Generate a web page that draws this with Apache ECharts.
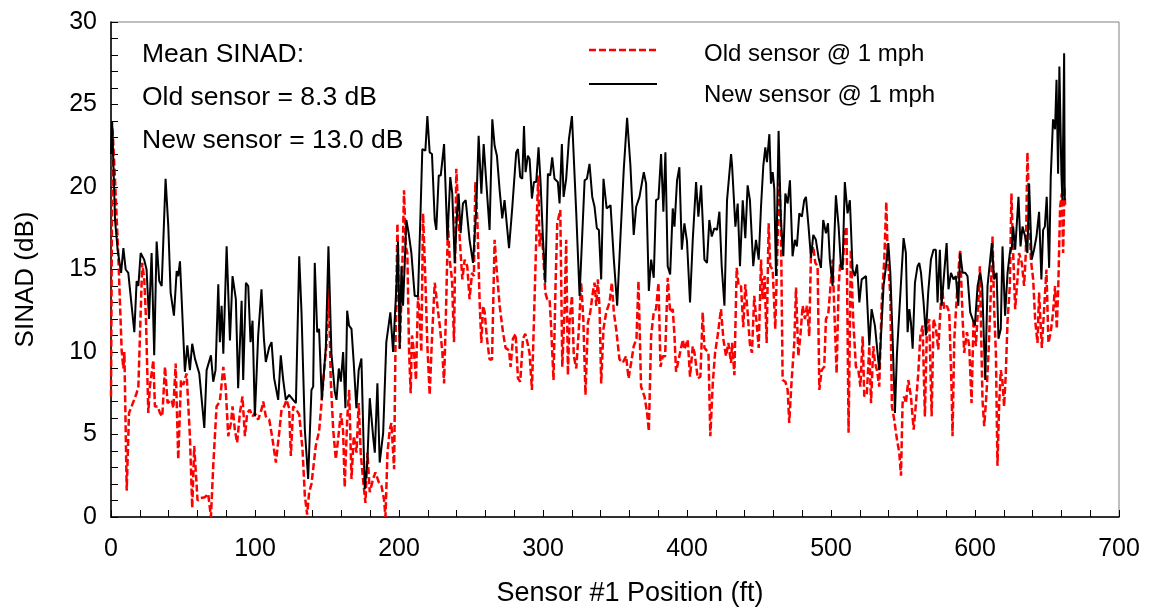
<!DOCTYPE html>
<html>
<head>
<meta charset="utf-8">
<title>SINAD vs position</title>
<script src="https://cdn.jsdelivr.net/npm/echarts@6/dist/echarts.min.js"></script>
<style>
    html, body { margin: 0; padding: 0; background: #fff; }
    #main { width: 1149px; height: 607px; }
</style>
</head>
<body>
<div id="main"></div>
<script>
// 数据: [位置(ft), SINAD(dB)]
var oldSensor = [
    [0,7.3],[1,23.6],[2.5,21],[5,16],[7.4,10.1],[8.6,9],[9.3,10],[10.9,1.6],[12.5,6.3],[14.3,6.7],
    [17.8,7.5],[19,7.9],[21.7,15.4],[23.1,14.4],[24.3,12],[25.9,6.3],[27,7.9],[29.4,9.5],[30.5,6.7],[32.4,6.7],
    [34,6.3],[35.6,6.1],[37.5,9.1],[39.3,6.9],[42.1,7.1],[43.3,6.6],[44.9,9.3],[46.7,3.5],[48.6,8.3],[50.2,8],
    [52.5,8.7],[54.8,4.9],[56.4,0.55],[57.8,4.3],[60.1,1],[62.2,1.15],[65.2,1.2],[67.5,1.4],[69.4,0],[71,3.1],
    [73.3,6.7],[75.6,7],[78,9.1],[79.6,7.9],[81.4,4.9],[83.3,5.7],[84.4,6.7],[86,5.3],[87.6,4.5],[89.5,6.3],
    [91.3,7.3],[93,4.9],[94.6,6.3],[96.4,6.5],[98.3,6.1],[99.9,6.3],[102.2,5.9],[104.5,6.5],[105.7,7],[107.5,6.1],
    [109.9,5.9],[112.2,4.7],[114.5,3.3],[116.8,5.1],[118.4,6.5],[120.3,6.7],[121.9,7.1],[123.7,6.6],[124.9,3.7],[126.5,6.7],
    [128.8,6.5],[130.7,6.2],[133,4.1],[134.6,1.3],[136.2,0.15],[137.6,1.5],[139.2,2],[140.4,1.9],[142.2,4.3],[144.5,5.2],
    [146.2,6.9],[148,8.9],[149.6,10.4],[151.2,14],[152.6,8.3],[154.3,5.3],[156.1,3.5],[157.7,4.7],[159.6,6.3],[161.2,5.2],
    [162.3,1.8],[164,5.9],[165.4,7.7],[167,2.3],[168.6,4.9],[170.5,3.9],[172,6.9],[173.4,3.9],[175,2.3],[176.7,0.85],
    [178.1,3.9],[179.7,1.5],[182,2.3],[183.6,2.7],[186,2.1],[187.8,1.9],[189.6,1.05],[190.6,0],[192,3.9],[193.6,5.3],
    [194.7,5.7],[196.6,2.9],[197.5,10],[198.9,17.8],[200.5,10.2],[202.1,14.4],[203.5,19.8],[204.7,16.4],[205.8,16],[207,10],
    [208.1,7.5],[209,11],[210.4,10],[211.8,8.3],[213.2,13.4],[214.4,12.2],[215.5,10],[216.7,18.4],[218.3,14.4],[219.7,10.4],
    [221.3,7.4],[222.9,10.8],[224.8,14.2],[226.4,13],[228.3,11.6],[230.1,10],[231.3,8.1],[232.9,13.4],[234,17.8],[235.2,15.6],
    [236.8,14.4],[238.2,10.6],[239.8,21.1],[241.4,18],[242.8,16],[244,14.4],[245.6,15.6],[247.4,15.2],[249,13.2],[250.7,14.8],
    [252,14.6],[253,20.3],[254.4,18],[256,13],[257.2,10.55],[258.4,12.8],[259.5,12.4],[261.1,10.8],[262.9,9.55],[264.6,9.55],
    [266.4,16.8],[268,14.8],[269.9,12.8],[272.2,11.2],[274,10.25],[276.4,10.1],[277.5,9.1],[279.1,10.8],[281,11.1],[282.6,8.4],
    [284.2,8.2],[286.1,10.8],[287.7,11.1],[289.5,10.45],[290.7,9.9],[292.3,7.7],[294.2,13.4],[295.8,18.4],[296.7,20.7],[297.6,16.4],
    [298.8,17.2],[300,16.2],[301.6,13.6],[302.9,13.2],[304.6,13.2],[305.7,11.4],[307.3,8.3],[308.7,14],[309.9,17.8],[312,18.6],
    [313.4,9.1],[315,12.6],[316.1,16.8],[317.3,8.6],[318.4,11.8],[320.1,13.4],[321.4,9.75],[323.1,9],[324.9,11.4],[326.5,14.2],
    [328,12],[329.5,7.4],[331.2,11.8],[332.8,12.4],[334.6,13.6],[335.8,14.2],[337,12.8],[338.1,14.4],[339.3,12.6],[340.4,8.1],
    [342,11.4],[343.9,12.4],[346.2,13],[347.8,14.2],[349.2,12.4],[350.8,11.4],[353.1,9.55],[355.4,9.35],[357.7,9.75],[359.4,8.4],
    [361.2,9.35],[363,10.35],[364.9,10.8],[366.3,14.3],[368.1,7.9],[370.5,7.3],[372.3,6.3],[373.5,5.2],[375.1,11],[376.9,12.4],
    [378.5,12.6],[380.2,14.2],[381.6,9.1],[383.2,9.75],[384.8,9.75],[386.6,14.5],[388.3,12.4],[390.1,12.6],[391.3,11],[392.4,8.8],
    [394.7,9.75],[397.1,10.75],[398.2,10.15],[400.5,10.75],[402.1,8.5],[404,10.35],[405.2,9.95],[407.5,8.4],[409.3,8.5],[410.9,12.4],
    [412.1,10.25],[413.3,10.35],[414.9,9.95],[416.2,4.9],[417.9,8.1],[419.5,9.95],[421.3,11],[423.6,12.6],[425.3,10.75],[427.1,9.75],
    [428.7,10.55],[430.6,9.35],[431.3,10.55],[432.9,8.6],[434.5,15.1],[435.9,14],[437.5,14],[439.1,11.5],[440.5,14.1],[442.1,12.4],
    [443.7,10.45],[445.1,9.95],[446.7,13.4],[447.9,12.2],[449.8,10.25],[451.4,15.6],[452.5,13.2],[453.9,14.6],[455.3,10.55],[456.7,17.8],
    [457.8,15.2],[459.5,15],[461.3,11.4],[462.9,16.6],[464.1,20.25],[465.2,18],[466.4,8.3],[468.3,8.2],[469.9,7.7],[471,5.7],
    [472.6,8.2],[474.5,10.55],[475.7,13.9],[477.3,9.75],[478.7,10.95],[480.3,12.8],[481.9,12],[483.3,12.8],[484.9,10.95],[486.1,16],
    [487.7,16.4],[489.1,15.4],[490.7,15.2],[491.9,7.7],[493.5,8.9],[495.3,9.1],[496.5,12],[498.1,12.3],[499.5,13.8],[501.1,15.6],
    [502.2,12.8],[503.9,8.7],[505.3,14],[506.4,15.4],[508,15],[509.6,17.2],[510.8,17.6],[512.2,5.1],[513.8,16.2],[515.4,12],
    [517.3,9.1],[519,8.9],[520.4,7.9],[522,10.95],[523.1,7.3],[524.9,7.5],[526.6,10.35],[527.8,6.9],[529.4,10.35],[530.5,9.35],
    [531.9,8.9],[533.5,7.9],[535.2,13],[537,15.6],[538.4,19.1],[539.3,16],[541.2,13.4],[542.3,6.7],[543.9,5.9],[545.8,4.7],
    [547.4,3.9],[548.6,2.5],[549.7,6.9],[550.9,7.3],[552,6.9],[553.7,8.3],[555.5,7.3],[557.4,5.3],[559,6.9],[560.6,8.7],
    [562,10.95],[563.6,11.6],[565.2,6.1],[566.6,11.4],[568.2,12],[569.9,6.1],[571.2,12],[572.9,11.4],[574.5,10.15],[575.9,12.4],
    [577,14],[578.6,12.6],[580.5,12.8],[582.1,12.4],[583.7,7.9],[584.4,4.9],[585.6,10.75],[586.7,12.4],[588.4,14.8],[589.7,16.2],
    [591.4,12],[592.5,9.95],[594.4,11.2],[596,10.35],[597.6,6.9],[599,12],[600.6,10.35],[602.2,12.8],[603.4,15.2],[604.1,11.9],
    [605.2,7.1],[606.4,5.5],[608,7.5],[609.4,9.95],[611,13.6],[612.2,17],[613.3,12.6],[614.5,9.95],[615.6,3.1],[616.8,6.9],
    [617.9,8.9],[619,8.3],[620.2,6.7],[621.4,8.7],[622.6,11.9],[624.2,14],[625.3,19.6],[626.5,16],[627.9,12.6],[629.5,14.4],
    [630.6,16],[632.5,15.4],[634.1,14],[635.3,16],[636.4,22.1],[637.6,18.8],[638.8,15.6],[640.4,14.4],[641.8,11.9],[643.4,10.55],
    [644.5,13.6],[646.4,10.25],[648,12.6],[649.6,15],[651,10.55],[652.6,11.2],[654.2,12.4],[655.6,14],[656.8,11.4],[657.9,14.2],
    [659.1,18.8],[660.3,19.6],[661.2,16],[662.1,20],[662.6,18.8]
];

var newSensor = [
    [0,22],[0.8,24],[2.8,18],[4.6,16.2],[7,14.8],[8.6,16.3],[10.2,15],[12,14.8],[16.2,11.2],[17.8,14.3],
    [19,14],[20.6,16],[23,15.6],[24.7,15],[26.4,12],[28.2,16],[30,9.8],[31.7,16.7],[33.5,14.3],[35.2,14],
    [37.9,20.5],[39.8,17.6],[41.4,13.6],[43.7,12.2],[45.6,14.9],[46.7,14.6],[47.9,15.5],[51.3,8.8],[53,10.4],[54.8,8.9],
    [56.4,10.5],[58.3,9.6],[61.3,8.7],[64.8,5.4],[66.4,8.9],[69.4,9.8],[71,8.2],[72.6,8.9],[74.5,14.1],[75.6,10.6],
    [76.8,12.8],[78,9.9],[80.3,16.4],[82.6,10.7],[84.4,14.6],[86.7,13.2],[88.3,7.8],[90.7,13.1],[91.8,8.3],[93.7,14.2],
    [95.3,14],[96.9,10.6],[98.3,11.9],[99.9,6.1],[102.2,11],[104.5,13.8],[106.2,10.8],[107.5,9.4],[109.9,10.3],[111.5,10.6],
    [113.3,8.4],[116.1,7.1],[117.9,9.8],[119.6,8.3],[121.4,7.1],[123.7,7.4],[126.5,7.1],[128.4,6.9],[130.7,15.8],[132.3,12.4],
    [134.6,5.3],[136.9,2.3],[139.2,7.7],[140.4,7.9],[141.5,15.4],[143.2,11.2],[144.5,11.4],[146.4,7.1],[149.2,10.3],[151,16.4],
    [153.1,9.9],[155.4,7.6],[156.6,7.1],[158.2,9],[159.6,8.2],[161.2,10],[162.8,6.6],[164,12.5],[165.3,11.6],[167,11.4],
    [168.6,9.3],[170.4,6.6],[172,8.9],[173.9,9.6],[176.2,1.7],[178,3.3],[179.7,7.2],[182,4.9],[183.2,3.9],[185,8.1],
    [186.6,3.3],[189,5.1],[191.2,10.6],[192.3,10.7],[194,12.4],[195.9,10],[197,9.9],[198.2,14],[199.3,16.7],[200.5,10.2],
    [201.7,15.2],[202.8,12.8],[204,15.4],[205.1,18],[206.7,17.2],[208.6,16],[210.9,13.4],[213.2,13.4],[214.8,18],[216.2,22.3],
    [218.3,22.2],[219.7,24.3],[221.3,22.1],[222.9,22],[224.8,18],[225.9,17.4],[227.6,20.7],[229,20.7],[231.3,22.6],[233.6,16.8],
    [235.6,20.6],[237,19.6],[238.7,15.4],[240.3,18.4],[241.4,19.6],[242.8,17.2],[244.4,19],[246.3,19.2],[247.6,19.2],[249,16.8],
    [251.4,15.4],[253.7,18.8],[255.3,23.1],[257.2,19.6],[258.8,22.6],[260.6,20.3],[262.9,17.4],[264.8,24.1],[266.4,22.5],[268,21.9],
    [269.9,19.8],[271.7,18.1],[273.3,19.2],[274.5,19.1],[276.4,16.3],[278.7,18.8],[281.4,22.1],[282.6,22.3],[284.2,20.6],[285.6,20.5],
    [286.8,23.7],[287.9,20.9],[289.5,21.9],[290.7,21.7],[292.3,19.3],[293.7,20.3],[295.3,20.3],[296.9,22.4],[298.3,20.3],[299.9,17],
    [301.6,14.2],[303.4,20.8],[305,20.7],[306.4,21.8],[308,20.5],[310.3,20.3],[311.5,19],[313.1,22.6],[314.3,19.4],[316.1,20.5],
    [318,22.9],[320.1,24.3],[323.1,18.4],[325.4,13.4],[327.7,18],[328.9,20.4],[330.5,20.5],[332.3,21.4],[334.2,19.4],[335.8,18.8],
    [337.4,17.5],[338.8,17.4],[340.4,14.4],[342,20.5],[344.2,18.7],[346.9,18.9],[349.2,15.6],[351.5,12.8],[353.8,17],[356.1,21.1],
    [358.4,24.2],[360.7,21.3],[363,17.1],[364.7,18.8],[367,19.4],[370,20.9],[371.6,20.2],[373.5,13.7],[375.1,15.6],[376.9,14.5],
    [378.5,19.2],[380.2,19.3],[382,22],[383.6,18.5],[385,22.1],[386.6,15.2],[388.3,14.7],[390.1,18.7],[391.3,17.6],[393.1,20.4],
    [394.7,21.2],[396.4,16.2],[398.2,17.8],[400,16.7],[402.1,13],[404,16.8],[406.3,20.3],[407.9,18.2],[409.8,20.1],[412.1,15.6],
    [413.9,15.4],[415.5,18],[417.2,17],[419,17.5],[420.9,17.4],[422.5,18.5],[424.1,15.2],[426,12.8],[427.8,19.2],[430.6,22],
    [431.3,21.3],[433.6,17.6],[435.2,19],[436.8,15.2],[438.7,19.2],[440.5,16.9],[442.1,20.1],[443.7,19.2],[446,15.2],[447.9,16.8],
    [449.8,15.6],[451.4,18.8],[453,21.3],[454.4,22.4],[455.5,21.5],[457.2,23.2],[458.3,20.2],[459.5,20.9],[460.6,19.9],[461.8,14.6],
    [463.6,23.4],[465.2,18],[466.9,15.8],[468.3,19.6],[469.9,19],[471.5,20.4],[473.3,15.8],[474.9,16.8],[476.3,16.4],[478,18.4],
    [479.8,18.2],[481.4,19.2],[482.6,19.4],[484.4,17.6],[486.1,15.7],[487.7,17.1],[489.5,16.8],[491.4,15.7],[493,15.1],[494.6,18],
    [496.5,17.2],[497.9,17.8],[499.2,15.6],[501.1,14],[502.2,14],[503.4,19.5],[505.3,17.6],[506.9,15.2],[508,15],[509.6,20.3],
    [511.5,18.4],[513.1,19.2],[515,15],[516.5,14.6],[518.1,15.3],[519.7,13],[521.3,14.4],[524.3,14.6],[526.6,10.4],[528.2,12.6],
    [530.5,11.6],[533.5,8.9],[536.5,14],[538.2,15.2],[539.8,16.6],[541.2,14.8],[542.8,10.8],[544.4,6.3],[545.8,9.9],[548.6,14.2],
    [550.4,16.9],[552,16],[553.2,11.2],[554.4,12.6],[555.5,11.8],[556.7,10.2],[558.3,14.2],[560.1,15.2],[561.3,15.4],[562.5,14.8],
    [564.3,13],[565.9,11],[567.5,13.6],[569.4,15.6],[571.2,16.2],[572.8,16.2],[574,13],[575.6,16.2],[576.8,12.8],[578.6,14.8],
    [580.3,16.6],[581.6,13.8],[583.3,14.8],[585.1,14.4],[586.7,14.6],[588.4,12.8],[589.7,16],[591.4,14.8],[593.2,14.8],[594.8,14.6],
    [596.7,12.4],[598.3,12],[599.9,11.6],[601.8,14],[603.6,14.8],[605,14],[607.1,8.3],[608.7,14],[611.7,16.6],[613.3,14.4],
    [615,14.8],[616.3,10.8],[617.9,11.4],[619.1,16.4],[620.9,12.2],[622.6,14.8],[624.2,16],[625.6,16.4],[626.5,17.6],[627.9,16.2],
    [630.2,19.4],[631.6,16.4],[633,17.6],[634.8,17],[636.4,16],[637.6,20.2],[639.4,15.6],[641,16.2],[642.7,17],[644.5,18.5],
    [646.1,14.4],[647.3,17.4],[648.5,17.6],[649.8,19.4],[651.5,15.1],[652.6,20.6],[653.3,20.6],[654.2,24.1],[655.6,23.5],[656.6,26.5],
    [657.7,20.8],[658.6,27.3],[660,20.8],[660.7,19.2],[661.9,28.1],[662.3,19.2]
];

var seriesNames = ['Old sensor @ 1 mph', 'New sensor @ 1 mph'];
var noteLines = ['Mean SINAD:', 'Old sensor = 8.3 dB', 'New sensor = 13.0 dB'];

var fontName = 'Liberation Sans, Arial, sans-serif';

var myChart = echarts.init(document.getElementById('main'));

var option = {
    backgroundColor: '#fff',
    animation: false,
    grid: {
        left: 111,
        right: 30,
        top: 22,
        bottom: 90,
        // 不让标签挤压绘图区
        outerBoundsMode: 'none',
        show: true,
        borderColor: '#808080',
        borderWidth: 1
    },
    xAxis: {
        type: 'value',
        min: 0,
        max: 700,
        interval: 100,
        name: 'Sensor #1 Position (ft)',
        nameLocation: 'middle',
        nameGap: 63,
        // 标题略偏右
        nameTextStyle: { fontFamily: fontName, fontSize: 27, color: '#000', padding: [0, 0, 0, 30] },
        axisLine: { lineStyle: { color: '#000', width: 1.5 } },
        axisTick: { inside: true, length: 7, lineStyle: { color: '#000' } },
        minorTick: { show: true, splitNumber: 5, length: 7, lineStyle: { color: '#000' } },
        splitLine: { show: false },
        axisLabel: { fontFamily: fontName, fontSize: 25, color: '#000', margin: 20 }
    },
    yAxis: {
        type: 'value',
        min: 0,
        max: 30,
        interval: 5,
        name: 'SINAD (dB)',
        nameLocation: 'middle',
        nameGap: 72,
        nameTextStyle: { fontFamily: fontName, fontSize: 26, color: '#000', padding: [0, 20, 0, 0] },
        axisLine: { show: true, lineStyle: { color: '#000', width: 1.5 } },
        axisTick: { show: true, inside: true, length: 7, lineStyle: { color: '#000' } },
        minorTick: { show: true, splitNumber: 5, length: 7, lineStyle: { color: '#000' } },
        splitLine: { show: false },
        axisLabel: { fontFamily: fontName, fontSize: 25, color: '#000', margin: 14 }
    },
    series: [
        {
            name: seriesNames[0],
            type: 'line',
            data: oldSensor,
            showSymbol: false,
            symbol: 'none',
            lineStyle: { color: '#ff0000', width: 2.5, type: [7, 3] },
            z: 2
        },
        {
            name: seriesNames[1],
            type: 'line',
            data: newSensor,
            showSymbol: false,
            symbol: 'none',
            lineStyle: { color: '#000', width: 2 },
            z: 3
        }
    ],
    // 图例和注释文字
    graphic: [
        { type: 'line', shape: { x1: 589, y1: 50, x2: 657, y2: 50 },
          style: { stroke: '#ff0000', lineWidth: 2.5, lineDash: [7, 3] } },
        { type: 'line', shape: { x1: 589, y1: 84, x2: 657, y2: 84 },
          style: { stroke: '#000', lineWidth: 2 } },
        { type: 'text', left: 704, top: 42,
          style: { text: seriesNames[0], fontFamily: fontName, fontSize: 24, fill: '#000' } },
        { type: 'text', left: 704, top: 83,
          style: { text: seriesNames[1], fontFamily: fontName, fontSize: 24, fill: '#000' } },
        { type: 'text', left: 142, top: 41,
          style: { text: noteLines[0], fontFamily: fontName, fontSize: 26.5, fill: '#000' } },
        { type: 'text', left: 142, top: 84,
          style: { text: noteLines[1], fontFamily: fontName, fontSize: 26.5, fill: '#000' } },
        { type: 'text', left: 142, top: 127,
          style: { text: noteLines[2], fontFamily: fontName, fontSize: 26.5, fill: '#000' } }
    ]
};

myChart.setOption(option);
</script>
</body>
</html>
